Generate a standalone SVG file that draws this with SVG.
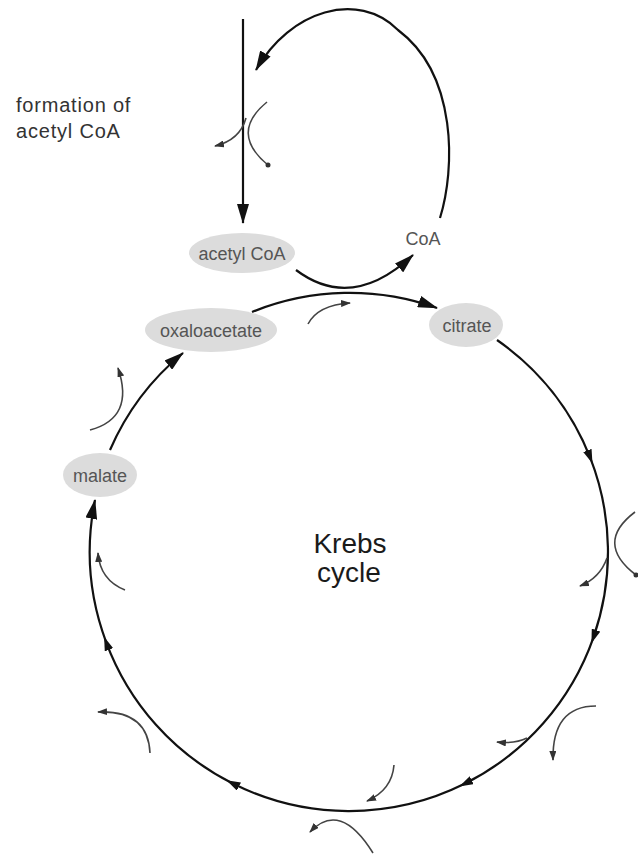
<svg xmlns="http://www.w3.org/2000/svg" width="638" height="861" viewBox="0 0 638 861">
<style>
.bg{fill:#ffffff}
.node{fill:#dcdcdc}
.lbl{font-family:"Liberation Sans",Arial,Helvetica,sans-serif;font-size:18px;fill:#555555;text-anchor:middle}
.title{font-family:"Liberation Sans",Arial,Helvetica,sans-serif;font-size:20px;fill:#333333;letter-spacing:0.8px}
.big{font-family:"Liberation Sans",Arial,Helvetica,sans-serif;font-size:28px;fill:#1a1a1a;text-anchor:middle}
.main{fill:none;stroke:#111111;stroke-width:2.2}
.side{fill:none;stroke:#444444;stroke-width:1.6}
</style>
<defs>
<marker id="ah" markerUnits="userSpaceOnUse" markerWidth="20" markerHeight="12" refX="19" refY="6" orient="auto"><path d="M0,0 L20,6 L0,12 Z" fill="#111111"/></marker>
<marker id="am" markerUnits="userSpaceOnUse" markerWidth="14" markerHeight="9" refX="8" refY="4.5" orient="auto"><path d="M0,0 L14,4.5 L0,9 Z" fill="#111111"/></marker>
<marker id="as" markerUnits="userSpaceOnUse" markerWidth="10" markerHeight="7" refX="9" refY="3.5" orient="auto"><path d="M0,0 L10,3.5 L0,7 Z" fill="#333333"/></marker>
<marker id="dot" markerUnits="userSpaceOnUse" markerWidth="6" markerHeight="6" refX="3" refY="3"><circle cx="3" cy="3" r="2.5" fill="#333333"/></marker>
</defs>
<rect class="bg" x="0" y="0" width="638" height="861"/>

<g id="connectors">
  <!-- formation of acetyl CoA -->
  <path class="main" d="M243,19 L243,223" marker-end="url(#ah)"/>
  <path class="main" d="M440,218 C455,170 458,75 398,30 C358,-10 290,10 256,70" marker-end="url(#ah)"/>
  <path class="main" d="M296,270 Q352,312 413,255" marker-end="url(#ah)"/>
  <!-- Krebs cycle -->
  <path class="main" d="M252,312 A259,259 0 0 1 437,308" marker-end="url(#ah)"/>
  <path class="main" d="M497,340 A259,259 0 0 1 590.3,457.9 A259,259 0 0 1 593.4,637.6 A259,259 0 0 1 464.6,783.8 A259,259 0 0 1 231.8,783 A259,259 0 0 1 106.2,642.3 A259,259 0 0 1 95,500" marker-mid="url(#am)" marker-end="url(#ah)"/>
  <path class="main" d="M110,450 A259,259 0 0 1 183,353" marker-end="url(#ah)"/>
  <!-- side reactions -->
  <path class="side" d="M267,102 Q229,133 268,165" marker-end="url(#dot)"/>
  <path class="side" d="M246,118 Q240,140 215,146" marker-end="url(#as)"/>
  <path class="side" d="M308,324 Q318,305 350,303" marker-end="url(#as)"/>
  <path class="side" d="M635,512 Q594,543 636,575" marker-end="url(#dot)"/>
  <path class="side" d="M607,558 Q600,578 580,586" marker-end="url(#as)"/>
  <path class="side" d="M596,706 Q552,706 553,760" marker-end="url(#as)"/>
  <path class="side" d="M527,738 Q515,744 497,742" marker-end="url(#as)"/>
  <path class="side" d="M394,765 Q392,790 367,801" marker-end="url(#as)"/>
  <path class="side" d="M373,853 Q340,800 310,832" marker-end="url(#as)"/>
  <path class="side" d="M150,753 Q148,710 98,712" marker-end="url(#as)"/>
  <path class="side" d="M125,590 Q100,580 98,553" marker-end="url(#as)"/>
  <path class="side" d="M90,430 Q135,418 118,368" marker-end="url(#as)"/>
</g>

<g id="label-formation">
  <text class="title" x="16" y="112">formation of</text>
  <text class="title" x="16" y="138">acetyl CoA</text>
</g>
<g id="label-krebs">
  <text class="big" x="350" y="553">Krebs</text>
  <text class="big" x="349" y="582">cycle</text>
</g>

<g id="node-acetylcoa">
  <ellipse class="node" cx="242" cy="253" rx="53" ry="20"/>
  <text class="lbl" x="242" y="259.5">acetyl CoA</text>
</g>
<g id="node-coa">
  <text class="lbl" x="423" y="245">CoA</text>
</g>
<g id="node-oxaloacetate">
  <ellipse class="node" cx="211" cy="330" rx="66" ry="22"/>
  <text class="lbl" x="211" y="336.5">oxaloacetate</text>
</g>
<g id="node-citrate">
  <ellipse class="node" cx="466" cy="325" rx="37" ry="22"/>
  <text class="lbl" x="467" y="331.5">citrate</text>
</g>
<g id="node-malate">
  <ellipse class="node" cx="100" cy="475" rx="37" ry="22"/>
  <text class="lbl" x="100" y="481.5">malate</text>
</g>
</svg>
